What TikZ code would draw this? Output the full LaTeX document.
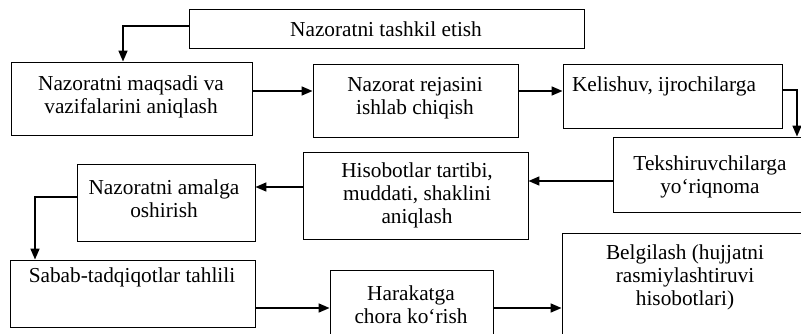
\documentclass[tikz,border=0pt]{standalone}
\usepackage{fontspec}
\setmainfont{Liberation Serif}
\usetikzlibrary{arrows.meta}
\tikzset{
  box/.style={draw, line width=0.9pt, inner sep=0pt, anchor=center},
  txt/.style={inner sep=0pt, align=center, anchor=center, font=\fontsize{21.3}{23}\selectfont},
  arr/.style={line width=1.6pt, -{Triangle[length=11pt,width=9pt]}}
}
\begin{document}
\begin{tikzpicture}[x=1pt,y=-1pt]
\useasboundingbox (0,0) rectangle (801,333);
\clip (0,0) rectangle (801,333);
% boxes
\node[box, minimum width=395pt, minimum height=39pt] (top) at (386.5,28.5) {};
\node[box, minimum width=241pt, minimum height=73pt] (b1) at (131.5,98.5) {};
\node[box, minimum width=205pt, minimum height=73pt] (b2) at (415.5,100.5) {};
\node[box, minimum width=219pt, minimum height=64pt] (b3) at (672.5,96) {};
\node[box, minimum width=193pt, minimum height=75pt] (b4) at (709.5,174.5) {};
\node[box, minimum width=225pt, minimum height=87pt] (b5) at (415.5,195.5) {};
\node[box, minimum width=178pt, minimum height=77pt] (b6) at (166,202.5) {};
\node[box, minimum width=245pt, minimum height=67pt] (b7) at (132.5,293.5) {};
\node[box, minimum width=163pt, minimum height=80pt] (b8) at (411.5,310) {};
\node[box, minimum width=248pt, minimum height=117pt] (b9) at (686,291.5) {};
% texts
\node[txt] (t0) at (386,29) {Nazoratni tashkil etish};
\node[txt] (t1) at (131,97) {Nazoratni maqsadi va\\vazifalarini aniqlash};
\node[txt] (t2) at (415,98) {Nazorat rejasini\\ishlab chiqish};
\node[txt] (t3) at (664,86) {Kelishuv, ijrochilarga};
\node[txt] (t4) at (710,177) {Tekshiruvchilarga\\yo‘riqnoma};
\node[txt] (t5) at (417,195) {Hisobotlar tartibi,\\muddati, shaklini\\aniqlash};
\node[txt] (t6) at (164,199) {Nazoratni amalga\\oshirish};
\node[txt] (t7) at (132,277) {Sabab-tadqiqotlar tahlili};
\node[txt] (t8) at (411,305) {Harakatga\\chora ko‘rish};
\node[txt] (t9) at (685,277) {Belgilash (hujjatni\\rasmiylashtiruvi\\hisobotlari)};
% connectors
\coordinate (c0) at ([xshift=-8.5pt]b1.north);
\draw[arr] ([yshift=2.5pt]top.west) -| (c0);
\draw[arr] ([yshift=7.5pt]b1.east) -- ([yshift=7.5pt]b1.east -| b2.west);
\draw[arr] ([yshift=9.5pt]b2.east) -- ([yshift=9.5pt]b2.east -| b3.west);
\coordinate (c3) at (797,0);
\draw[arr] ([yshift=6pt]b3.east) -| (c3 |- b4.north);
\draw[arr] ([yshift=-6.5pt]b4.west) -- ([yshift=-6.5pt]b4.west -| b5.east);
\draw[arr] ([yshift=8.5pt]b5.west) -- ([yshift=8.5pt]b5.west -| b6.east);
\coordinate (c6) at (35,0);
\draw[arr] ([yshift=5.5pt]b6.west) -| (c6 |- b7.north);
\draw[arr] ([yshift=-14.5pt]b7.east) -- ([yshift=-14.5pt]b7.east -| b8.west);
\draw[arr] ([yshift=2pt]b8.east) -- ([yshift=2pt]b8.east -| b9.west);
\end{tikzpicture}
\end{document}
